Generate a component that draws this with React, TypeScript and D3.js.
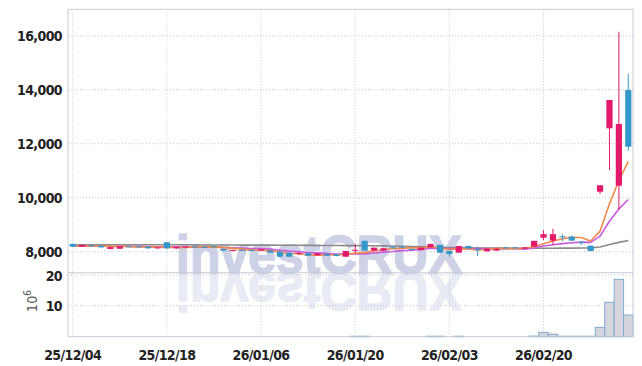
import React from 'react';
import * as d3 from 'd3';

const dates = [
  '2025-12-04','2025-12-05','2025-12-08','2025-12-09','2025-12-10','2025-12-11','2025-12-12','2025-12-15','2025-12-16','2025-12-17',
  '2025-12-18','2025-12-19','2025-12-22','2025-12-23','2025-12-24','2025-12-26','2025-12-29','2025-12-30','2026-01-02','2026-01-05',
  '2026-01-06','2026-01-07','2026-01-08','2026-01-09','2026-01-12','2026-01-13','2026-01-14','2026-01-15','2026-01-16','2026-01-19',
  '2026-01-20','2026-01-21','2026-01-22','2026-01-23','2026-01-26','2026-01-27','2026-01-28','2026-01-29','2026-01-30','2026-02-02',
  '2026-02-03','2026-02-04','2026-02-05','2026-02-06','2026-02-09','2026-02-10','2026-02-11','2026-02-12','2026-02-13','2026-02-19',
  '2026-02-20','2026-02-23','2026-02-24','2026-02-25','2026-02-26','2026-02-27','2026-03-03','2026-03-04','2026-03-05','2026-03-06',
];
const opens = [
  8285,8185,8240,8220,8100,8110,8200,8200,8185,8125,
  8350,8125,8150,8190,8180,8200,8100,8030,8070,8060,
  8040,8040,8000,7965,7930,7940,7865,7915,7900,7815,
  8050,8400,8040,8040,8165,8190,8100,8060,8160,8250,
  8025,7965,8210,8095,8015,8040,8160,8160,8110,8185,
  8520,8410,8570,8555,8360,8220,10220,12570,10444,13989,
];
const highs = [
  8300,8260,8260,8230,8190,8210,8220,8210,8200,8170,
  8360,8200,8200,8200,8190,8210,8110,8070,8080,8070,
  8100,8050,8010,7975,8000,7950,7950,7925,7910,8030,
  8280,8420,8160,8135,8200,8220,8110,8160,8300,8260,
  8035,8220,8220,8190,8120,8120,8170,8170,8170,8410,
  8800,8850,8650,8600,8400,8230,10470,13618,16148,14581,
];
const lows = [
  8170,8170,8210,8150,8090,8100,8180,8170,8110,8110,
  8110,8110,8140,8170,8160,8160,8030,8020,8030,8020,
  8030,7955,7800,7805,7880,7840,7855,7840,7830,7810,
  7940,8030,8030,8030,8120,8150,8080,8050,8150,7950,
  7820,7955,8080,7840,8005,8030,8115,8120,8100,8180,
  8430,8250,8400,8400,8250,8010,10137,11026,9544,11741,
];
const closes = [
  8185,8250,8220,8160,8170,8200,8190,8180,8125,8160,
  8125,8185,8190,8180,8170,8170,8040,8060,8040,8030,
  8090,7965,7815,7815,7950,7850,7940,7850,7840,8025,
  8070,8040,8150,8125,8160,8185,8090,8150,8285,7965,
  7915,8210,8125,8090,8110,8110,8125,8130,8160,8400,
  8650,8650,8555,8410,8350,8025,10460,13618,12730,11889,
];
// volume, in millions of shares
const volumes = [
  0,0,0,0,0,0,0,0,0,0,
  0,0,0,0,0,0,0,0,0,0,
  0,0,0,0,0,0,0,0,0,0,
  0.15,0.15,0,0,0,0,0,0,0.15,0.15,
  0,0.15,0,0,0,0,0,0,0,0.2,
  1.4,0.8,0.15,0.15,0.15,0.15,3.0,11.1,18.5,7.0,
];
const ma5 = [
  8200,8210,8215,8205,8197,8200,8188,8180,8173,8171,
  8156,8155,8157,8168,8170,8179,8150,8124,8096,8068,
  8052,8037,7988,7943,7927,7879,7874,7881,7886,7901,
  7945,7965,8025,8082,8109,8132,8142,8142,8174,8135,
  8081,8105,8100,8061,8090,8129,8112,8113,8127,8185,
  8293,8398,8483,8533,8523,8398,8760,9773,10637,11344,
];
const ma10 = [
  8200,8200,8200,8200,8200,8200,8199,8198,8189,8184,
  8178,8172,8169,8171,8171,8168,8153,8141,8132,8119,
  8116,8094,8056,8020,7998,7966,7956,7935,7915,7914,
  7912,7920,7953,7984,8005,8039,8054,8084,8128,8122,
  8107,8124,8121,8118,8113,8105,8109,8107,8094,8138,
  8211,8255,8298,8330,8354,8346,8579,9128,9585,9934,
];
const ma60 = [
  8255,8255,8255,8255,8255,8255,8255,8255,8255,8255,
  8255,8255,8255,8252,8250,8250,8248,8246,8245,8244,
  8243,8242,8240,8238,8236,8234,8232,8230,8228,8226,
  8224,8222,8220,8215,8210,8200,8190,8180,8170,8160,
  8150,8145,8140,8138,8136,8134,8132,8130,8130,8130,
  8130,8130,8132,8134,8136,8140,8175,8265,8345,8415,
];
const priceTicks = [8000, 10000, 12000, 14000, 16000];
const volumeTicks = [10, 20];
const labelDates = ['2025-12-04','2025-12-18','2026-01-06','2026-01-20','2026-02-03','2026-02-20'];

const W = 642, H = 366;
const L = 68, R = 633, TOP = 9.3, SEP = 272.7, BOT = 336.7;
const RED = '#e5196b', BLUE = '#3596c9';
const FONT = '"Liberation Sans Narrow", "DejaVu Sans Condensed", sans-serif';

export default function App() {
  const x = d3.scaleBand<string>().domain(dates).range([L, R]).padding(0);
  const bw = x.bandwidth();
  const cx = (d: string) => (x(d) as number) + bw / 2;
  const y = d3.scaleLinear().domain([7222, 16978]).range([SEP, TOP]);
  const yv = d3.scaleLinear().domain([0, 20.65]).range([BOT, SEP]);
  const parse = d3.timeParse('%Y-%m-%d');
  const fmt = d3.timeFormat('%y/%m/%d');
  const line = (arr: number[]) =>
    d3.line<number>().x((_, i) => cx(dates[i])).y((v) => y(v))(arr) || '';
  const gridColor = '#c3c6d6';
  const borderColor = '#c9cbd6';
  const bodyW = bw * 0.66;
  const wm = '#c9cee5';

  return (
    <svg width={W} height={H} style={{ position: 'absolute', left: 0, top: 0, background: '#fff' }}>
      {/* watermark */}
      <g fontFamily='"Liberation Sans", Arial, sans-serif' fontWeight="bold" fontSize={54}>
        <text x={176} y={SEP} textLength={286} lengthAdjust="spacingAndGlyphs" fill={wm} stroke={wm} strokeWidth={1.6} opacity={0.9}>
          invest<tspan>CRUX</tspan>
        </text>
        <text x={176} y={-SEP} transform="scale(1,-1)" textLength={286} lengthAdjust="spacingAndGlyphs" fill={wm} stroke={wm} strokeWidth={1.6} opacity={0.4}>
          invest<tspan>CRUX</tspan>
        </text>
      </g>
      {/* grid */}
      <g stroke={gridColor} strokeWidth={1} strokeDasharray="1,2">
        {priceTicks.map((t) => (
          <line key={'p' + t} x1={L} x2={R} y1={y(t)} y2={y(t)} />
        ))}
        {volumeTicks.map((t) => (
          <line key={'v' + t} x1={L} x2={R} y1={yv(t)} y2={yv(t)} />
        ))}
        {labelDates.map((d) => (
          <line key={'x' + d} x1={cx(d)} x2={cx(d)} y1={TOP} y2={BOT} />
        ))}
      </g>
      {/* volume bars */}
      <g>
        {dates.map((d, i) =>
          volumes[i] > 0 ? (
            <rect key={'vb' + d} x={x(d) as number} width={bw} y={yv(volumes[i])} height={BOT - yv(volumes[i])}
              fill="#d5d5dd" stroke="#7eaad2" strokeWidth={1} />
          ) : null
        )}
      </g>
      {/* moving averages */}
      <g fill="none" strokeWidth={1.6} strokeLinejoin="round">
        <path d={line(ma60)} stroke="#8a8a8a" />
        <path d={line(ma10)} stroke="#c85ae0" />
        <path d={line(ma5)} stroke="#f08a4b" />
      </g>
      {/* candles */}
      <g>
        {dates.map((d, i) => {
          const up = closes[i] >= opens[i];
          const c = up ? RED : BLUE;
          const top = y(Math.max(opens[i], closes[i]));
          const bot = y(Math.min(opens[i], closes[i]));
          return (
            <g key={'c' + d}>
              <line x1={cx(d)} x2={cx(d)} y1={y(highs[i])} y2={y(lows[i])} stroke={c} strokeWidth={1} />
              <rect x={cx(d) - bodyW / 2} width={bodyW} y={top} height={Math.max(1, bot - top)} fill={c} />
            </g>
          );
        })}
      </g>
      {/* frame */}
      <g stroke={borderColor} strokeWidth={1} fill="none">
        <rect x={L} y={TOP} width={R - L} height={BOT - TOP} />
        <line x1={L} x2={R} y1={SEP} y2={SEP} />
      </g>
      {/* axis labels */}
      <g fontFamily={FONT} fontSize={14} fill="#222" fontWeight="bold" letterSpacing={-0.6}>
        {priceTicks.map((t) => (
          <text key={'pl' + t} x={62} y={y(t)} dy="0.36em" textAnchor="end">{d3.format(',')(t)}</text>
        ))}
        {volumeTicks.map((t) => (
          <text key={'vl' + t} x={62} y={Math.max(yv(t), 276)} dy="0.36em" textAnchor="end">{t}</text>
        ))}
        {labelDates.map((d) => (
          <text key={'xl' + d} x={cx(d)} y={360} textAnchor="middle">{fmt(parse(d) as Date)}</text>
        ))}
      </g>
      <text transform="translate(37,301) rotate(-90)" textAnchor="middle" fontFamily={FONT} fontSize={14} fill="#555">
        10<tspan dy="-6" fontSize={10}>6</tspan>
      </text>
    </svg>
  );
}
